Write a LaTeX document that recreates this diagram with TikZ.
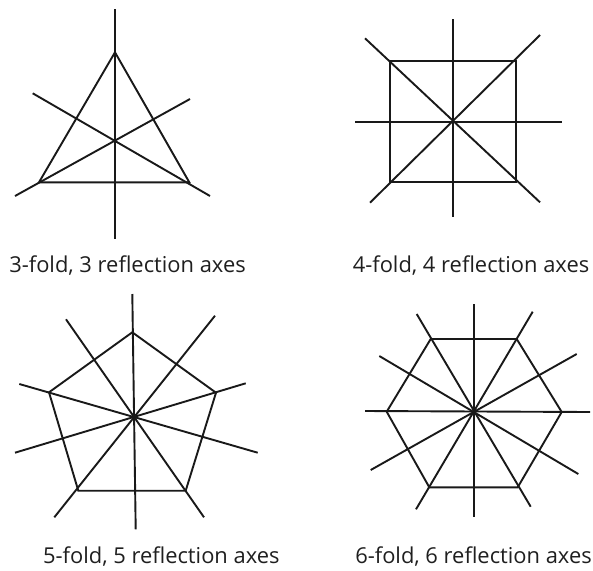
\documentclass[tikz,border=0pt]{standalone}
\usepackage{fontspec}
\setmainfont{Open Sans}
\begin{document}
\begin{tikzpicture}[x=1pt,y=-1pt,
  ax/.style={line width=1.9pt,draw=black!90,line cap=butt},
  poly/.style={line width=1.9pt,draw=black!90,line join=miter},
  lbl/.style={anchor=base,inner sep=0pt,font=\fontsize{21.9}{25}\selectfont,text=black!88}]
\useasboundingbox (0,0) rectangle (593,570);
% ---------- triangle ----------
\coordinate (t1) at (115,52.3);
\coordinate (t2) at (189.3,182.3);
\coordinate (t3) at (39,182.3);
\coordinate (ta1) at (115,9);   \coordinate (tb1) at (115,239);
\coordinate (ta2) at (32.7,93.3); \coordinate (tb2) at (210,196);
\coordinate (ta3) at (190,99);  \coordinate (tb3) at (15,196);
\draw[ax] (ta1) -- (tb1);
\draw[ax] (ta2) -- (tb2);
\draw[ax] (ta3) -- (tb3);
\draw[poly] (t1) -- (t2) -- (t3) -- cycle;
\node[lbl] (l3) at (127.5,272.7) {3-fold, 3 reflection axes};
% ---------- square ----------
\coordinate (s1) at (390,61);
\coordinate (s2) at (516,61);
\coordinate (s3) at (516,182.3);
\coordinate (s4) at (390,182.3);
\coordinate (sa1) at (453.3,19);  \coordinate (sb1) at (453.3,216.7);
\coordinate (sa2) at (355,121.7); \coordinate (sb2) at (561.7,121.7);
\coordinate (sa3) at (365,38.3);  \coordinate (sb3) at (540,202.3);
\coordinate (sa4) at (540,35);    \coordinate (sb4) at (370,202.7);
\foreach \i in {1,...,4}{\draw[ax] (sa\i) -- (sb\i);}
\draw[poly] (s1) -- (s2) -- (s3) -- (s4) -- cycle;
\node[lbl] (l4) at (471,272.7) {4-fold, 4 reflection axes};
% ---------- pentagon ----------
\coordinate (p1) at (132.3,332.3);
\coordinate (p2) at (216,392.7);
\coordinate (p3) at (185.7,490.7);
\coordinate (p4) at (78.3,490.7);
\coordinate (p5) at (49,392.3);
\coordinate (pa1) at (132.3,294);  \coordinate (pb1) at (135.7,529.3);
\coordinate (pa2) at (66,319.3);   \coordinate (pb2) at (204,517.3);
\coordinate (pa3) at (215,315.7);  \coordinate (pb3) at (54.3,517.3);
\coordinate (pa4) at (19.3,384);   \coordinate (pb4) at (257.7,452.7);
\coordinate (pa5) at (245.7,383.3); \coordinate (pb5) at (15,452.7);
\foreach \i in {1,...,5}{\draw[ax] (pa\i) -- (pb\i);}
\draw[poly] (p1) -- (p2) -- (p3) -- (p4) -- (p5) -- cycle;
\node[lbl] (l5) at (161.3,563) {5-fold, 5 reflection axes};
% ---------- hexagon ----------
\coordinate (h1) at (430.7,339);
\coordinate (h2) at (516.7,339);
\coordinate (h3) at (561.7,412);
\coordinate (h4) at (517.7,487.3);
\coordinate (h5) at (429.3,487.3);
\coordinate (h6) at (386.7,411.7);
\coordinate (ha1) at (474.3,304);  \coordinate (hb1) at (474.3,517.3);
\coordinate (ha2) at (365,411);    \coordinate (hb2) at (590,412);
\coordinate (ha3) at (416.7,314);  \coordinate (hb3) at (530.7,506.7);
\coordinate (ha4) at (532.7,311.7); \coordinate (hb4) at (416,509.3);
\coordinate (ha5) at (379.3,356);  \coordinate (hb5) at (578.3,474);
\coordinate (ha6) at (576.7,354);  \coordinate (hb6) at (370.7,470);
\foreach \i in {1,...,6}{\draw[ax] (ha\i) -- (hb\i);}
\draw[poly] (h1) -- (h2) -- (h3) -- (h4) -- (h5) -- (h6) -- cycle;
\node[lbl] (l6) at (473.5,563) {6-fold, 6 reflection axes};
\end{tikzpicture}
\end{document}
